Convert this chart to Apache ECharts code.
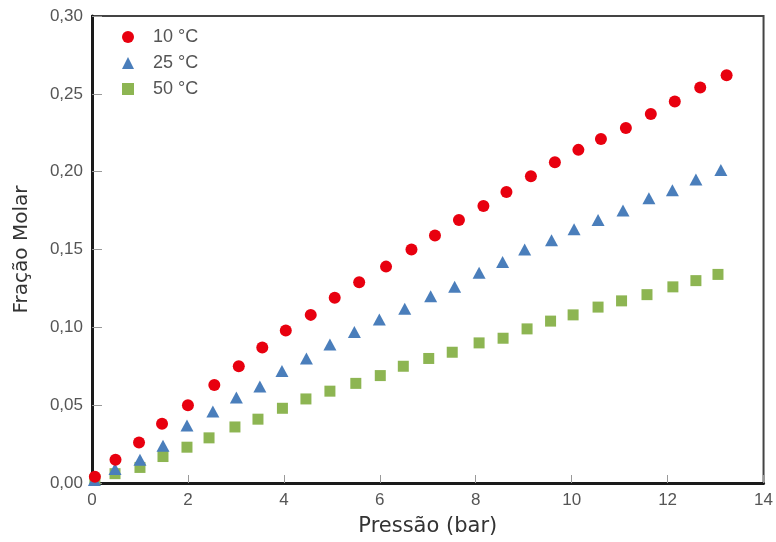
<!DOCTYPE html>
<html>
<head>
<meta charset="utf-8">
<script src="https://cdn.jsdelivr.net/npm/echarts@6/dist/echarts.min.js"></script>
<style>
  html, body { margin: 0; padding: 0; background: #fff; }
  #chart { width: 776px; height: 542px; }
</style>
</head>
<body>
<div id="chart"></div>
<script>
// pressão (bar) / fração molar
var p10 = [0.06, 0.49, 0.98, 1.46, 2.0, 2.55, 3.06, 3.55, 4.04, 4.56, 5.06, 5.57, 6.13, 6.66, 7.15, 7.65, 8.16, 8.64, 9.15, 9.65, 10.14, 10.61, 11.13, 11.65, 12.15, 12.68, 13.23];
var x10 = [0.004, 0.015, 0.026, 0.038, 0.050, 0.063, 0.075, 0.087, 0.098, 0.108, 0.119, 0.129, 0.139, 0.150, 0.159, 0.169, 0.178, 0.187, 0.197, 0.206, 0.214, 0.221, 0.228, 0.237, 0.245, 0.254, 0.262];

var p25 = [0.05, 0.48, 1.00, 1.48, 1.98, 2.52, 3.01, 3.50, 3.96, 4.47, 4.96, 5.47, 5.99, 6.52, 7.06, 7.56, 8.07, 8.56, 9.02, 9.58, 10.05, 10.55, 11.07, 11.61, 12.10, 12.59, 13.11];
var x25 = [0.002, 0.009, 0.015, 0.024, 0.037, 0.046, 0.055, 0.062, 0.072, 0.080, 0.089, 0.097, 0.105, 0.112, 0.120, 0.126, 0.135, 0.142, 0.150, 0.156, 0.163, 0.169, 0.175, 0.183, 0.188, 0.195, 0.201];

var p50 = [0.06, 0.48, 1.00, 1.48, 1.98, 2.44, 2.98, 3.46, 3.97, 4.46, 4.96, 5.50, 6.01, 6.49, 7.02, 7.51, 8.07, 8.57, 9.07, 9.56, 10.03, 10.55, 11.04, 11.57, 12.11, 12.59, 13.05];
var x50 = [0.002, 0.006, 0.010, 0.017, 0.023, 0.029, 0.036, 0.041, 0.048, 0.054, 0.059, 0.064, 0.069, 0.075, 0.080, 0.084, 0.090, 0.093, 0.099, 0.104, 0.108, 0.113, 0.117, 0.121, 0.126, 0.130, 0.134];

var series_names = ['10 °C', '25 °C', '50 °C'];

function pares(xs, ys) {
    var out = [];
    for (var i = 0; i < xs.length; i++) out.push([xs[i], ys[i]]);
    return out;
}

var myChart = echarts.init(document.getElementById('chart'), null, {renderer: 'canvas'});
var fonte = '"Liberation Sans", Arial, sans-serif';
var fonteNome = '"DejaVu Sans", sans-serif';

myChart.setOption({
    animation: false,
    grid: {
        left: 92, right: 10, top: 16, bottom: 56,
        show: true, borderColor: '#444', borderWidth: 2
    },
    legend: {
        orient: 'vertical',
        left: 117, top: 23,
        itemWidth: 12, itemHeight: 12, itemGap: 8,
        textStyle: {fontFamily: fonte, fontSize: 18, color: '#555', padding: [0, 0, 0, 14]},
        data: series_names
    },
    xAxis: {
        type: 'value', min: 0, max: 14, interval: 2,
        name: 'Pressão (bar)', nameLocation: 'middle', nameGap: 33,
        nameTextStyle: {fontFamily: fonteNome, fontSize: 21, color: '#333'},
        axisLine: {lineStyle: {color: '#1a1a1a', width: 3}},
        axisTick: {inside: true, length: 8, lineStyle: {color: '#999'}},
        axisLabel: {fontFamily: fonte, fontSize: 17, color: '#555', margin: 9},
        splitLine: {show: false}
    },
    yAxis: {
        type: 'value', min: 0, max: 0.30, interval: 0.05,
        name: 'Fração Molar', nameLocation: 'middle', nameGap: 60,
        nameTextStyle: {fontFamily: fonteNome, fontSize: 20, color: '#333'},
        axisLine: {lineStyle: {color: '#1a1a1a', width: 3}},
        axisTick: {inside: true, length: 10, lineStyle: {color: '#999'}},
        axisLabel: {
            fontFamily: fonte, fontSize: 17, color: '#555', margin: 9,
            formatter: function (v) { return v.toFixed(2).replace('.', ','); }
        },
        splitLine: {show: false}
    },
    series: [
        {name: series_names[0], type: 'scatter', symbol: 'circle', symbolSize: 12,
         itemStyle: {color: '#e8000f', opacity: 1}, data: pares(p10, x10), z: 3},
        {name: series_names[1], type: 'scatter', symbol: 'triangle', symbolSize: [13, 12],
         itemStyle: {color: '#4a7ebb', opacity: 1}, data: pares(p25, x25), z: 2},
        {name: series_names[2], type: 'scatter', symbol: 'rect', symbolSize: 11,
         itemStyle: {color: '#8db552', opacity: 1}, data: pares(p50, x50), z: 1}
    ]
});
</script>
</body>
</html>
